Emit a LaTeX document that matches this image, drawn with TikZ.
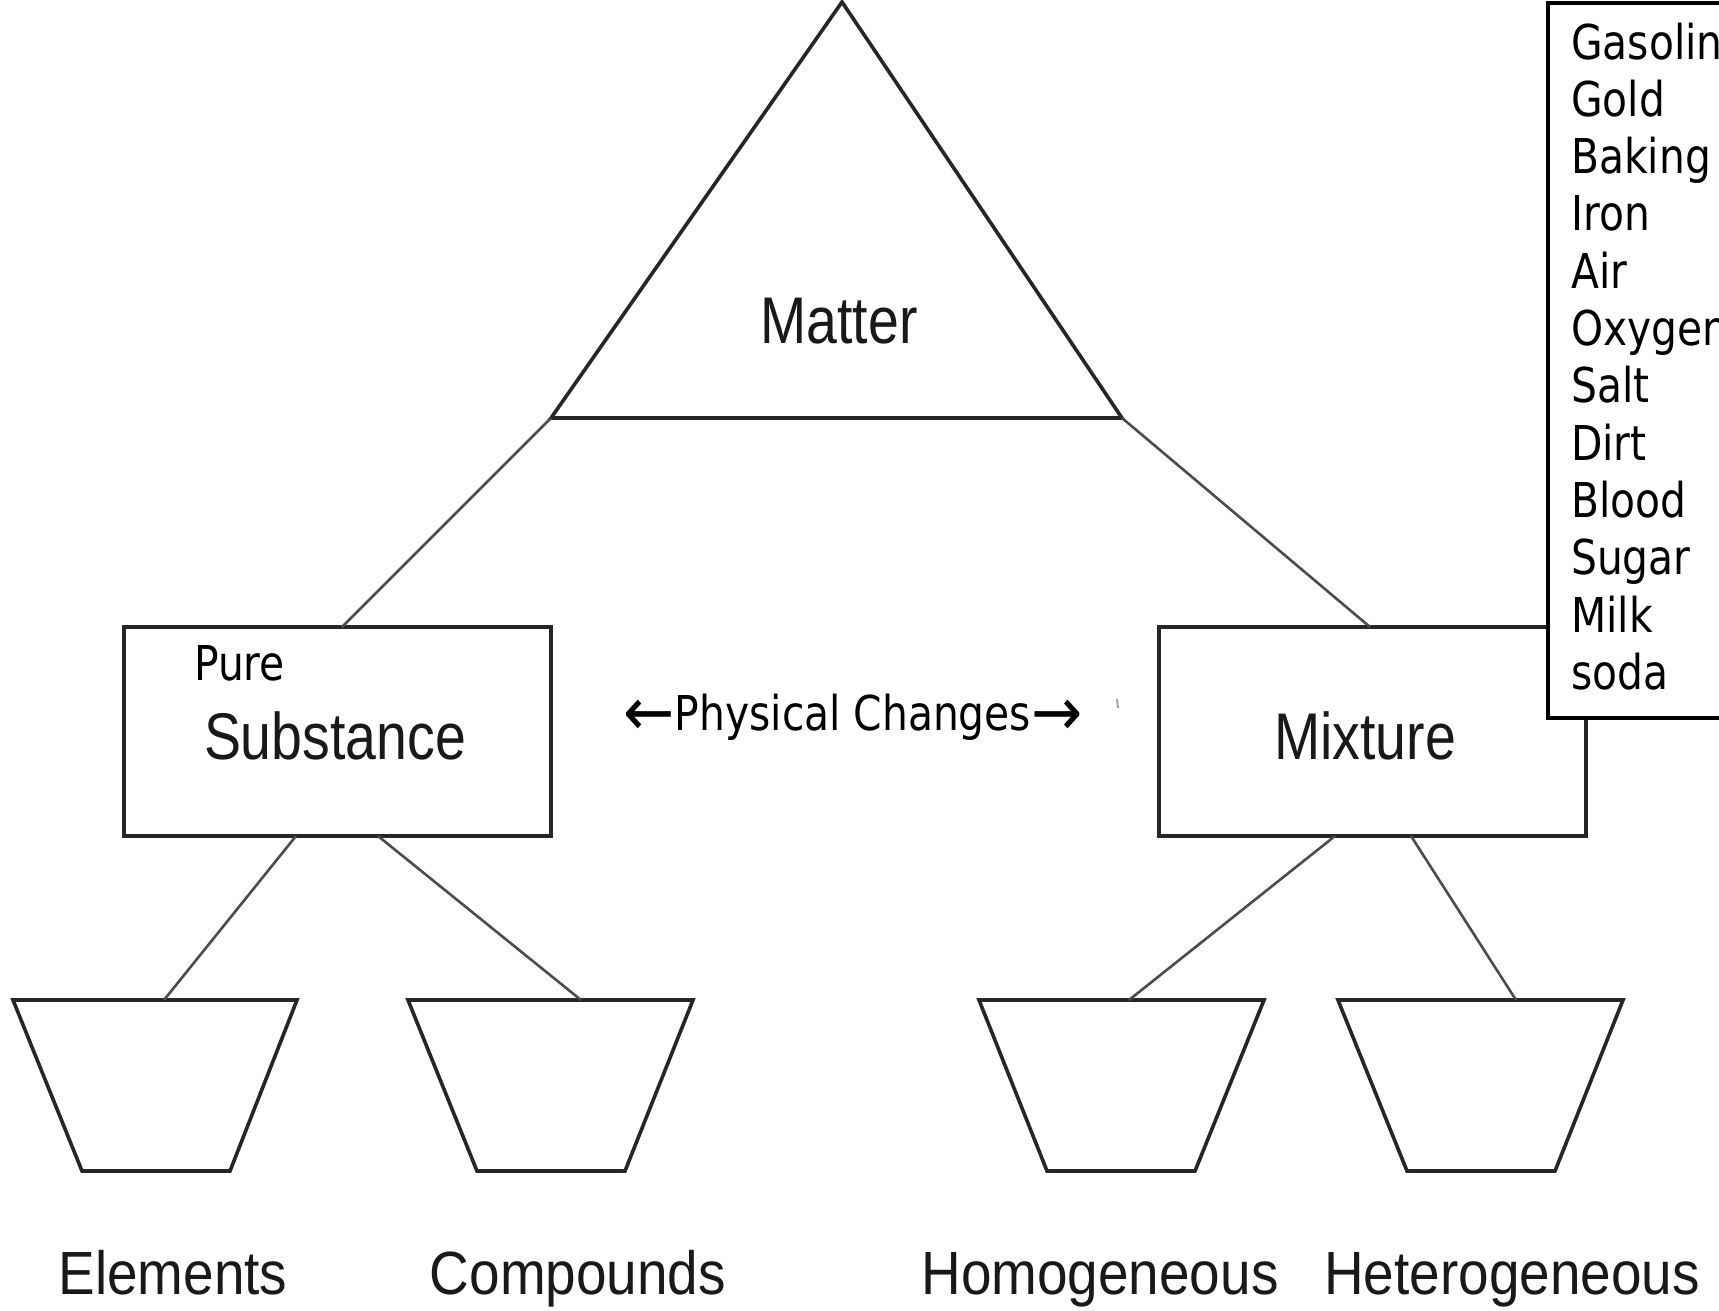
\documentclass[tikz,border=0pt]{standalone}
\usepackage{fontspec}
\newfontfamily\helvn[FakeStretch=0.84]{Liberation Sans}
\newfontfamily\helvb[FakeStretch=0.90]{Liberation Sans}
\newfontfamily\tahom[FakeStretch=0.85]{DejaVu Sans}
\newcommand\bigarrow[1]{\raisebox{-5pt}{\scalebox{1.5}[1.4]{#1}}}
\begin{document}
\begin{tikzpicture}[x=1pt,y=-1pt,
  outline/.style={draw=black!85,line width=3.6pt,line join=miter},
  conn/.style={draw=black!70,line width=2.6pt},
  biglabel/.style={font=\fontsize{66}{70}\selectfont\helvn,anchor=base,inner sep=0pt,text=black!90},
  leaflabel/.style={font=\fontsize{61}{66}\selectfont\helvb,anchor=base,inner sep=0pt,text=black!90},
  listtext/.style={font=\fontsize{48}{57}\selectfont\tahom,anchor=base west,inner sep=0pt},
  boxnode/.style={outline,rectangle,minimum width=427pt,minimum height=209pt,inner sep=0pt}]
\useasboundingbox (0,0) rectangle (1719,1310);
\clip (0,0) rectangle (1719,1310);
\fill[white] (0,0) rectangle (1719,1310);

% triangle (Matter)
\coordinate (apex) at (842,2);
\coordinate (tl) at (551,418);
\coordinate (tr) at (1122,418);
\draw[outline] (apex) -- (tl) -- (tr) -- cycle;
\node[biglabel] (matter) at (839,343) {Matter};

% boxes
\node[boxnode] (ps) at (337.5,731.5) {};
\node[boxnode] (mx) at (1372.5,731.5) {};
\node[listtext] (pure) at (194,680) {Pure};
\node[biglabel] (subst) at (335,759) {Substance};
\node[biglabel] (mixt) at (1365,759) {Mixture};

% connectors from triangle
\coordinate (psTop) at (342,627);
\coordinate (mxTop) at (1370,627);
\draw[conn] (tl) -- (psTop);
\draw[conn] (tr) -- (mxTop);

% trapezoids
\draw[outline] (13,1000) coordinate (elTL) -- (297,1000) -- (230,1171) -- (82,1171) -- cycle;
\draw[outline] (408,1000) coordinate (coTL) -- (693,1000) -- (625,1171) -- (477,1171) -- cycle;
\draw[outline] (979,1000) coordinate (hoTL) -- (1264,1000) -- (1195,1171) -- (1047,1171) -- cycle;
\draw[outline] (1338,1000) coordinate (heTL) -- (1623,1000) -- (1555,1171) -- (1407,1171) -- cycle;
\coordinate (elTop) at (164,1000);
\coordinate (coTop) at (581,1000);
\coordinate (hoTop) at (1129,1000);
\coordinate (heTop) at (1516,1000);
\coordinate (psB1) at (296,836);
\coordinate (psB2) at (378,836);
\coordinate (mxB1) at (1335,836);
\coordinate (mxB2) at (1411,836);
\draw[conn] (psB1) -- (elTop);
\draw[conn] (psB2) -- (coTop);
\draw[conn] (mxB1) -- (hoTop);
\draw[conn] (mxB2) -- (heTop);

% leaf labels
\node[leaflabel] (el) at (173,1294) {Elements};
\node[leaflabel] (co) at (578,1294) {Compounds};
\node[leaflabel] (ho) at (1100,1294) {Homogeneous};
\node[leaflabel] (he) at (1512,1294) {Heterogeneous};

% physical changes
\node[listtext,anchor=base] (phys) at (853,730) {\bigarrow{←}Physical Changes\bigarrow{→}};
\draw[black!35,line width=2pt] (1117,699) -- (1118,708);

% list box
\draw[line width=3.5pt,fill=white] (1548,3) rectangle (1760,718);
\foreach \w [count=\i from 0] in {Gasoline,Gold,Baking soda,Iron,Air,Oxygen,Salt,Dirt,Blood,Sugar,Milk,soda}
  \node[listtext] (l\i) at (1571,59+57.3*\i) {\w};
\end{tikzpicture}
\end{document}
